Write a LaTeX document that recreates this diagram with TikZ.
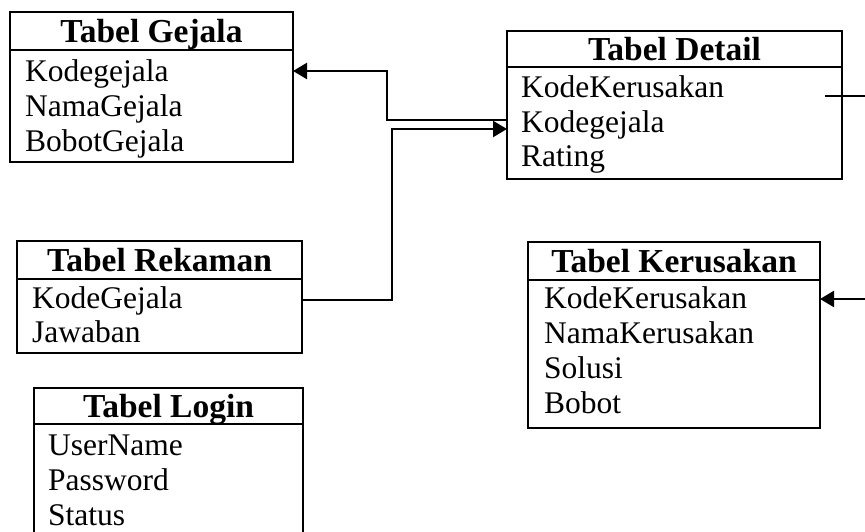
\documentclass[tikz,border=0pt]{standalone}
\usepackage{fontspec}
\setmainfont{Liberation Serif}
\usetikzlibrary{arrows.meta}
\begin{document}
\begin{tikzpicture}[x=1pt,y=-1pt,
  box/.style={draw, line width=2.2pt, rectangle, inner sep=0pt, outer sep=0pt, anchor=north west},
  hdr/.style={box, font=\fontsize{33.5}{36}\selectfont\bfseries, text height=23pt, text depth=0pt},
  field/.style={anchor=base west, inner sep=0pt, font=\fontsize{31.5}{35}\selectfont},
  link/.style={line width=2.4pt},
  tip/.style={-{Triangle[length=14pt,width=16pt]}}]
\useasboundingbox (0,0) rectangle (865,532);
\clip (0,0) rectangle (865,532);

% Tabel Gejala
\node[hdr, minimum width=283pt, minimum height=38pt] (gejalaH) at (10,12) {Tabel Gejala};
\node[box, minimum width=283pt, minimum height=112pt] (gejalaB) at (gejalaH.south west) {};
\node[field] (gejala1) at (25,82) {Kodegejala};
\node[field] (gejala2) at (25,117) {NamaGejala};
\node[field] (gejala3) at (25,152) {BobotGejala};

% Tabel Detail
\node[hdr, minimum width=335pt, minimum height=36pt] (detailH) at (507,31) {Tabel Detail};
\node[box, minimum width=335pt, minimum height=112pt] (detailB) at (detailH.south west) {};
\node[field] (detail1) at (521,98) {KodeKerusakan};
\node[field] (detail2) at (521,133) {Kodegejala};
\node[field] (detail3) at (521,167) {Rating};

% Tabel Rekaman
\node[hdr, minimum width=285pt, minimum height=38pt] (rekamanH) at (17,241) {Tabel Rekaman};
\node[box, minimum width=285pt, minimum height=74pt] (rekamanB) at (rekamanH.south west) {};
\node[field] (rekaman1) at (32,308) {KodeGejala};
\node[field] (rekaman2) at (32,342) {Jawaban};

% Tabel Kerusakan
\node[hdr, minimum width=292pt, minimum height=38pt] (kerusakanH) at (528,242) {Tabel Kerusakan};
\node[box, minimum width=292pt, minimum height=148pt] (kerusakanB) at (kerusakanH.south west) {};
\node[field] (kerusakan1) at (544,308) {KodeKerusakan};
\node[field] (kerusakan2) at (544,343) {NamaKerusakan};
\node[field] (kerusakan3) at (544,378) {Solusi};
\node[field] (kerusakan4) at (544,413) {Bobot};

% Tabel Login
\node[hdr, minimum width=269pt, minimum height=36pt] (loginH) at (34,388) {Tabel Login};
\node[box, minimum width=269pt, minimum height=130pt] (loginB) at (loginH.south west) {};
\node[field] (login1) at (48,455) {UserName};
\node[field] (login2) at (48,490) {Password};
\node[field] (login3) at (48,525) {Status};

% connector levels and bends
\coordinate (lvA) at (0,120);
\coordinate (lvB) at (0,71);
\coordinate (bendA) at (387,0);
\coordinate (lvC) at (0,300);
\coordinate (lvD) at (0,129);
\coordinate (bendB) at (392,0);
\coordinate (kkIn) at (825,96);
\coordinate (kkOut) at (865,96);
\coordinate (krFrom) at (865,299);

% Detail.Kodegejala -> Gejala.Kodegejala
\draw[link, tip] (detailB.west |- lvA) -| (bendA |- lvB) -- (gejalaB.east |- lvB);
% Rekaman.KodeGejala -> Detail.Kodegejala
\draw[link, tip] (rekamanB.east |- lvC) -| (bendB |- lvD) -- (detailB.west |- lvD);
% Detail.KodeKerusakan leaving to the right
\draw[link] (kkIn) -- (kkOut);
% incoming link to Kerusakan.KodeKerusakan
\draw[link, tip] (krFrom) -- (kerusakanB.east |- krFrom);
\end{tikzpicture}
\end{document}
